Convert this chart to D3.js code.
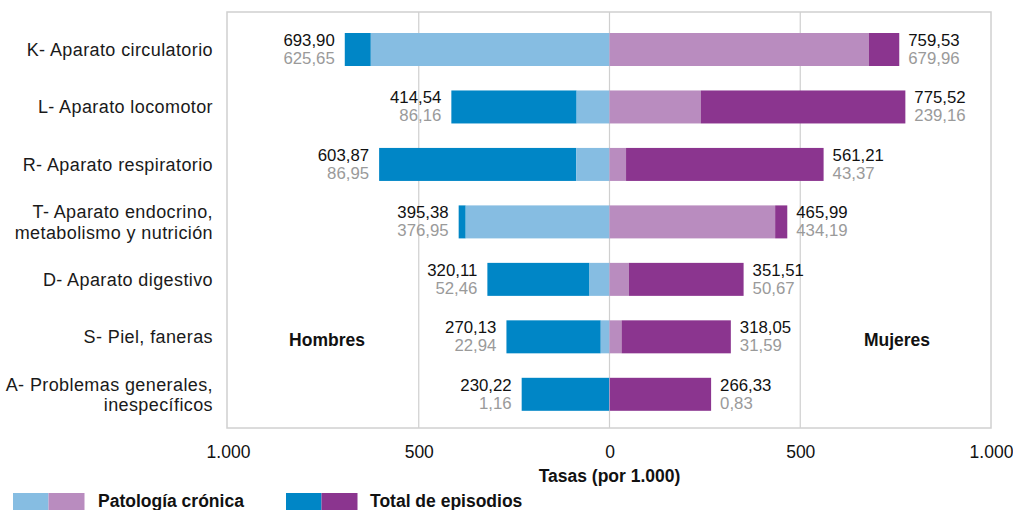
<!DOCTYPE html>
<html lang="es">
<head>
<meta charset="utf-8">
<script src="https://cdn.jsdelivr.net/npm/d3@7"></script>
<style>
  html, body { margin: 0; padding: 0; background: #fff; }
  svg { display: block; font-family: "Liberation Sans", Arial, Helvetica, sans-serif; }
</style>
</head>
<body>
<svg id="chart" width="1013" height="510"></svg>
<script>
// Diagnostic chapters (two-line labels split on "\n")
const categories = [
  "K- Aparato circulatorio",
  "L- Aparato locomotor",
  "R- Aparato respiratorio",
  "T- Aparato endocrino,\nmetabolismo y nutrición",
  "D- Aparato digestivo",
  "S- Piel, faneras",
  "A- Problemas generales,\ninespecíficos"
];
// Rates per 1,000
const menTotal      = [693.90, 414.54, 603.87, 395.38, 320.11, 270.13, 230.22];
const menChronic    = [625.65,  86.16,  86.95, 376.95,  52.46,  22.94,   1.16];
const womenTotal    = [759.53, 775.52, 561.21, 465.99, 351.51, 318.05, 266.33];
const womenChronic  = [679.96, 239.16,  43.37, 434.19,  50.67,  31.59,   0.83];
const tickValues    = [-1000, -500, 0, 500, 1000];
const legendItems   = ["Patología crónica", "Total de episodios"];

const colors = {
  menChronic: "#86bde2",
  womenChronic: "#b98cbf",
  menTotal: "#0086c6",
  womenTotal: "#8b358f"
};

const es = d3.formatLocale({ decimal: ",", thousands: ".", grouping: [3], currency: ["", " €"] });
const fmtVal = es.format(",.2f");
const fmtTick = es.format(",");

const svg = d3.select("#chart");
const frame = { left: 227, right: 991, top: 12, bottom: 428 };

const x = d3.scaleLinear().domain([-1000, 1000]).range([228, 991]);
const y = d3.scalePoint().domain(categories).range([49.5, 394.3]);
const barH = 33;

// Grid and frame
svg.append("g").selectAll("line")
  .data([-500, 0, 500])
  .join("line")
  .attr("x1", d => x(d)).attr("x2", d => x(d))
  .attr("y1", frame.top).attr("y2", frame.bottom)
  .attr("stroke", "#cfcfcf").attr("stroke-width", 1.2);

svg.append("rect")
  .attr("x", frame.left).attr("y", frame.top)
  .attr("width", frame.right - frame.left).attr("height", frame.bottom - frame.top)
  .attr("fill", "none").attr("stroke", "#d0d0d0").attr("stroke-width", 1.5);

// Bars: chronic portion from zero, remaining episodes beyond it
const rows = categories.map((c, i) => ({
  c, mt: menTotal[i], mc: menChronic[i], wt: womenTotal[i], wc: womenChronic[i]
}));

const bars = svg.append("g");
// Men
bars.selectAll(".mt").data(rows).join("rect")
  .attr("x", d => x(-d.mt)).attr("width", d => x(-d.mc) - x(-d.mt))
  .attr("y", d => y(d.c) - barH / 2).attr("height", barH)
  .attr("fill", colors.menTotal);
bars.selectAll(".mc").data(rows).join("rect")
  .attr("x", d => x(-d.mc)).attr("width", d => x(0) - x(-d.mc))
  .attr("y", d => y(d.c) - barH / 2).attr("height", barH)
  .attr("fill", colors.menChronic);
// Women
bars.selectAll(".wc").data(rows).join("rect")
  .attr("x", x(0)).attr("width", d => x(d.wc) - x(0))
  .attr("y", d => y(d.c) - barH / 2).attr("height", barH)
  .attr("fill", colors.womenChronic);
bars.selectAll(".wt").data(rows).join("rect")
  .attr("x", d => x(d.wc)).attr("width", d => x(d.wt) - x(d.wc))
  .attr("y", d => y(d.c) - barH / 2).attr("height", barH)
  .attr("fill", colors.womenTotal);

// Value labels: total above, chronic below in grey
const vfs = 16.8;
const labels = svg.append("g").attr("font-size", vfs);
const valueRows = [
  { side: "m", key: "mt", dy: -3.5, fill: "#111" },
  { side: "m", key: "mc", dy: 14.5, fill: "#9a9a9a" },
  { side: "w", key: "wt", dy: -3.5, fill: "#111" },
  { side: "w", key: "wc", dy: 14.5, fill: "#9a9a9a" }
];
valueRows.forEach(v => {
  labels.selectAll(null).data(rows).join("text")
    .attr("x", d => v.side === "m" ? x(-d.mt) - 10 : x(d.wt) + 9)
    .attr("y", d => y(d.c) + v.dy)
    .attr("text-anchor", v.side === "m" ? "end" : "start")
    .attr("fill", v.fill)
    .text(d => fmtVal(d[v.key]));
});

// Category labels, one text per line
const lineH = 20.2;
const catLines = categories.flatMap(c => {
  const parts = c.split("\n");
  return parts.map((ln, k) => ({ c, ln, k, n: parts.length }));
});
svg.append("g").attr("font-size", 18).attr("letter-spacing", 0.4).attr("fill", "#1a1a1a")
  .selectAll("text").data(catLines).join("text")
  .attr("text-anchor", "end")
  .attr("x", 213)
  .attr("y", d => y(d.c) + 6.5 - (d.n - 1) * lineH / 2 + d.k * lineH)
  .text(d => d.ln);

// Group labels
svg.append("text").attr("x", 327).attr("y", 346).attr("text-anchor", "middle")
  .attr("font-size", 17.5).attr("font-weight", "bold").attr("fill", "#111").text("Hombres");
svg.append("text").attr("x", 897).attr("y", 346).attr("text-anchor", "middle")
  .attr("font-size", 17.5).attr("font-weight", "bold").attr("fill", "#111").text("Mujeres");

// Axis
const axis = svg.append("g").attr("transform", `translate(0,${frame.bottom})`)
  .call(d3.axisBottom(x).tickValues(tickValues).tickSize(0).tickFormat(d => fmtTick(Math.abs(d))));
axis.select(".domain").remove();
axis.selectAll("text")
  .attr("y", 30).attr("dy", null)
  .attr("font-size", 17.5).attr("fill", "#111")
  .attr("font-family", "Liberation Sans, Arial, sans-serif");

svg.append("text").attr("x", x(0)).attr("y", 482).attr("text-anchor", "middle")
  .attr("font-size", 17.5).attr("font-weight", "bold").attr("fill", "#111")
  .text("Tasas (por 1.000)");

// Legend
const legend = svg.append("g");
const legendData = [
  { label: legendItems[0], a: colors.menChronic, b: colors.womenChronic, x0: 13, tx: 98 },
  { label: legendItems[1], a: colors.menTotal, b: colors.womenTotal, x0: 286, tx: 370 }
];
legendData.forEach(d => {
  legend.append("rect").attr("x", d.x0).attr("y", 493).attr("width", 35.5).attr("height", 17).attr("fill", d.a);
  legend.append("rect").attr("x", d.x0 + 35.5).attr("y", 493).attr("width", 36).attr("height", 17).attr("fill", d.b);
  legend.append("text").attr("x", d.tx).attr("y", 506.5)
    .attr("font-size", 17.5).attr("font-weight", "bold").attr("fill", "#111").text(d.label);
});
</script>
</body>
</html>
